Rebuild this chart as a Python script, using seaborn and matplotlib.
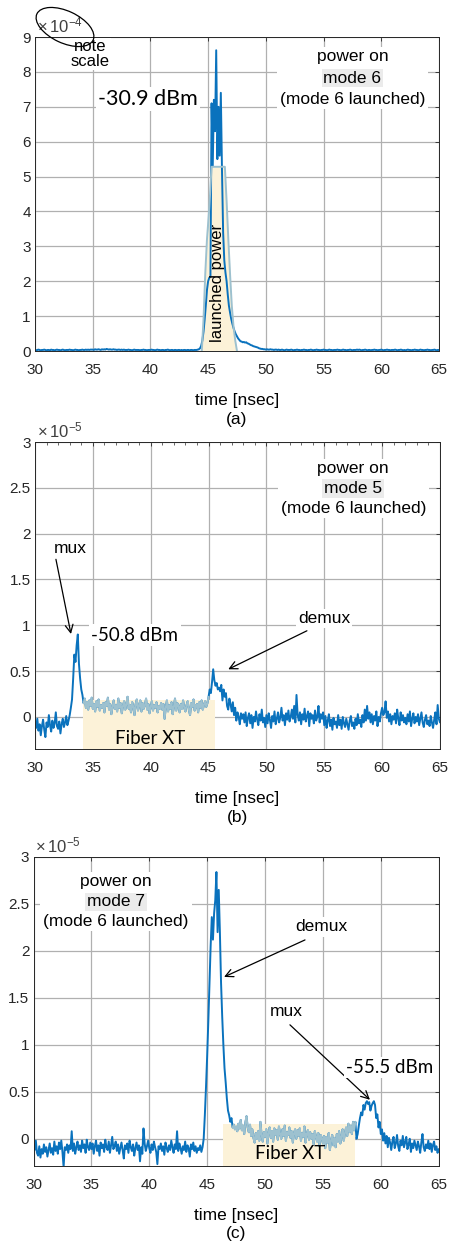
import numpy as np
import pandas as pd
import matplotlib
matplotlib.use("Agg")
import matplotlib.pyplot as plt
from matplotlib.patches import Ellipse, Rectangle
from matplotlib.transforms import Bbox, IdentityTransform
from matplotlib.ticker import MultipleLocator, FuncFormatter
import seaborn as sns

# ---------------------------------------------------------------------------
# scope traces, sampled every 0.1 ns from 30 ns to 65 ns
# ---------------------------------------------------------------------------
t_start, t_step, n_samples = 30.0, 0.1, 351
time_ns = np.round(t_start + t_step * np.arange(n_samples), 1)

# (a) power on mode 6, units of 1e-4
power_mode6 = [
    0.03, 0.02, 0.03, 0.04, 0.03, 0.02, 0.03, 0.03, 0.04, 0.03,   # 30
    0.02, 0.03, 0.03, 0.02, 0.04, 0.03, 0.03, 0.02, 0.03, 0.04,   # 31
    0.03, 0.03, 0.02, 0.03, 0.04, 0.03, 0.02, 0.03, 0.03, 0.03,   # 32
    0.04, 0.03, 0.03, 0.02, 0.03, 0.04, 0.03, 0.03, 0.02, 0.03,   # 33
    0.03, 0.04, 0.03, 0.03, 0.04, 0.03, 0.04, 0.03, 0.04, 0.04,   # 34
    0.04, 0.03, 0.05, 0.04, 0.04, 0.05, 0.04, 0.03, 0.05, 0.04,   # 35
    0.05, 0.04, 0.06, 0.05, 0.04, 0.05, 0.04, 0.04, 0.05, 0.04,   # 36
    0.04, 0.03, 0.04, 0.04, 0.03, 0.04, 0.03, 0.04, 0.03, 0.03,   # 37
    0.03, 0.04, 0.03, 0.03, 0.02, 0.03, 0.04, 0.03, 0.03, 0.03,   # 38
    0.03, 0.02, 0.03, 0.03, 0.04, 0.03, 0.03, 0.02, 0.03, 0.03,   # 39
    0.03, 0.04, 0.03, 0.03, 0.02, 0.03, 0.04, 0.03, 0.03, 0.02,   # 40
    0.03, 0.03, 0.02, 0.03, 0.03, 0.04, 0.03, 0.02, 0.03, 0.03,   # 41
    0.02, 0.03, 0.03, 0.02, 0.03, 0.03, 0.02, 0.03, 0.02, 0.03,   # 42
    0.03, 0.02, 0.03, 0.03, 0.02, 0.03, 0.03, 0.02, 0.03, 0.03,   # 43
    0.03, 0.04, 0.05, 0.08, 0.15, 0.30, 0.55, 0.90, 1.30, 1.75,   # 44
    2.00, 2.10, 2.12, 7.10, 5.30, 7.20, 6.30, 8.62, 5.50, 7.00,   # 45
    5.60, 7.40, 5.20, 3.40, 2.60, 2.25, 2.00, 1.62, 1.30, 1.10,   # 46
    0.92, 0.78, 0.66, 0.56, 0.48, 0.42, 0.36, 0.32, 0.28, 0.27,   # 47
    0.25, 0.26, 0.24, 0.25, 0.22, 0.21, 0.19, 0.17, 0.16, 0.14,   # 48
    0.13, 0.12, 0.11, 0.10, 0.08, 0.07, 0.06, 0.06, 0.05, 0.05,   # 49
    0.04, 0.05, 0.04, 0.04, 0.05, 0.04, 0.04, 0.03, 0.04, 0.04,   # 50
    0.03, 0.04, 0.03, 0.03, 0.04, 0.03, 0.02, 0.03, 0.04, 0.03,   # 51
    0.03, 0.03, 0.04, 0.03, 0.02, 0.03, 0.03, 0.04, 0.03, 0.03,   # 52
    0.02, 0.03, 0.03, 0.04, 0.03, 0.03, 0.02, 0.03, 0.03, 0.04,   # 53
    0.03, 0.02, 0.03, 0.03, 0.04, 0.03, 0.03, 0.02, 0.03, 0.03,   # 54
    0.04, 0.03, 0.03, 0.02, 0.03, 0.04, 0.03, 0.03, 0.02, 0.03,   # 55
    0.03, 0.03, 0.04, 0.03, 0.03, 0.02, 0.03, 0.04, 0.03, 0.03,   # 56
    0.02, 0.03, 0.03, 0.04, 0.03, 0.02, 0.03, 0.03, 0.03, 0.04,   # 57
    0.03, 0.04, 0.03, 0.02, 0.03, 0.03, 0.04, 0.03, 0.02, 0.03,   # 58
    0.03, 0.02, 0.03, 0.03, 0.04, 0.03, 0.03, 0.02, 0.03, 0.03,   # 59
    0.04, 0.03, 0.02, 0.03, 0.03, 0.04, 0.03, 0.03, 0.02, 0.03,   # 60
    0.03, 0.03, 0.04, 0.03, 0.02, 0.03, 0.03, 0.04, 0.03, 0.02,   # 61
    0.03, 0.02, 0.03, 0.04, 0.03, 0.03, 0.02, 0.03, 0.03, 0.04,   # 62
    0.03, 0.03, 0.02, 0.03, 0.04, 0.03, 0.03, 0.02, 0.03, 0.03,   # 63
    0.04, 0.03, 0.03, 0.02, 0.03, 0.03, 0.04, 0.03, 0.02, 0.03,   # 64
    0.03,                                                         # 65
]

# launched pulse shown under trace (a), units of 1e-4
launch_time = [44.45, 44.6, 44.75, 44.9, 45.1, 45.3, 46.45, 46.6, 46.75,
               46.9, 47.05, 47.2, 47.35, 47.5]
launch_power = [0.0, 0.9, 2.2, 3.2, 4.1, 5.28, 5.28, 4.3, 3.2,
                2.2, 1.3, 0.7, 0.3, 0.0]

# (b) power on mode 5, units of 1e-5
power_mode5 = [
    -0.05, -0.12, -0.02, -0.15, -0.08, -0.20, -0.10, -0.03, -0.14, -0.22,   # 30
    -0.06, -0.11, 0.02, -0.09, -0.16, -0.04, -0.12, -0.07, 0.05, -0.10,     # 31
    -0.13, -0.05, -0.18, -0.08, -0.02, -0.11, -0.06, 0.01, -0.09, -0.04,    # 32
    0.02, 0.10, 0.19, 0.42, 0.68, 0.60, 0.78, 0.90, 0.58, 0.42,             # 33
    0.30, 0.24, 0.15, 0.20, 0.10, 0.16, 0.08, 0.18, 0.12, 0.21,             # 34
    0.09, 0.14, 0.06, 0.17, 0.11, 0.19, 0.07, 0.13, 0.10, 0.15,             # 35
    0.05, 0.16, 0.12, 0.21, 0.08, 0.14, 0.03, 0.11, 0.18, 0.09,             # 36
    0.13, 0.06, 0.20, 0.10, 0.15, 0.04, 0.12, 0.17, 0.08, 0.14,             # 37
    0.22, 0.09, 0.13, 0.05, 0.16, 0.11, 0.02, 0.14, 0.19, 0.07,             # 38
    0.12, 0.18, 0.06, 0.15, 0.09, 0.13, 0.20, 0.08, 0.14, 0.04,             # 39
    0.11, 0.17, 0.07, 0.13, 0.10, 0.16, 0.05, 0.12, 0.09, 0.15,             # 40
    0.08, 0.14, -0.02, 0.10, 0.18, 0.06, 0.13, 0.09, 0.16, 0.03,            # 41
    0.11, 0.20, 0.07, 0.15, 0.12, 0.05, 0.14, 0.09, 0.18, 0.10,             # 42
    0.06, 0.13, 0.17, 0.08, 0.02, 0.15, 0.11, 0.19, 0.07, 0.12,             # 43
    0.14, 0.05, 0.16, 0.10, 0.18, 0.08, 0.13, 0.17, 0.11, 0.15,             # 44
    0.22, 0.30, 0.26, 0.38, 0.52, 0.40, 0.34, 0.37, 0.30, 0.32,             # 45
    0.28, 0.35, 0.18, 0.30, 0.22, 0.26, 0.12, 0.08, 0.20, 0.14,             # 46
    0.06, 0.16, 0.02, 0.10, -0.04, 0.05, 0.00, -0.08, 0.04, -0.02,          # 47
    0.03, -0.06, 0.05, -0.10, -0.01, 0.04, -0.07, 0.02, -0.12, 0.00,        # 48
    -0.05, 0.06, -0.03, -0.09, 0.03, -0.04, 0.08, -0.06, -0.01, -0.11,      # 49
    0.02, -0.07, 0.04, -0.03, -0.12, 0.01, -0.05, 0.06, -0.08, -0.02,       # 50
    0.05, -0.06, -0.01, 0.10, -0.04, 0.02, -0.09, 0.04, -0.03, 0.07,        # 51
    -0.05, 0.00, 0.08, -0.02, 0.12, -0.06, 0.24, 0.02, -0.04, 0.05,         # 52
    -0.08, 0.03, -0.03, 0.09, -0.05, 0.01, 0.06, -0.10, 0.04, -0.02,        # 53
    0.02, -0.07, 0.07, -0.04, 0.00, 0.12, -0.06, 0.03, -0.02, 0.05,         # 54
    -0.09, 0.01, -0.12, -0.04, 0.03, -0.10, -0.03, -0.14, -0.01, -0.08,     # 55
    -0.05, -0.12, 0.02, -0.09, -0.03, -0.13, 0.00, -0.07, -0.11, -0.02,     # 56
    -0.08, -0.14, -0.04, 0.01, -0.10, -0.06, -0.13, -0.02, -0.09, 0.03,     # 57
    -0.07, -0.03, -0.11, 0.02, -0.06, 0.08, -0.04, 0.12, -0.02, 0.05,       # 58
    -0.06, 0.03, -0.08, 0.01, -0.04, 0.06, -0.10, 0.00, -0.05, 0.04,        # 59
    0.10, 0.02, 0.05, 0.17, -0.01, 0.06, -0.05, 0.03, -0.08, 0.01,          # 60
    -0.03, 0.04, -0.07, 0.08, -0.02, -0.09, 0.05, -0.04, 0.02, -0.06,       # 61
    -0.01, -0.08, 0.03, -0.05, 0.06, -0.10, -0.02, 0.04, -0.07, 0.00,       # 62
    -0.05, 0.03, -0.09, -0.02, 0.05, -0.06, -0.11, -0.03, 0.02, -0.08,      # 63
    -0.04, -0.10, 0.01, -0.06, -0.12, -0.03, 0.05, -0.08, 0.13, -0.02,      # 64
    -0.06,                                                                  # 65
]

# (c) power on mode 7, units of 1e-5
power_mode7 = [
    -0.05, -0.12, -0.02, -0.15, -0.18, -0.08, -0.20, -0.11, -0.16, -0.06,   # 30
    -0.14, -0.09, -0.19, -0.12, -0.05, -0.15, -0.10, -0.17, -0.03, -0.13,   # 31
    -0.08, -0.16, -0.04, -0.11, -0.02, -0.14, -0.30, -0.09, -0.12, -0.06,   # 32
    -0.15, -0.07, -0.11, 0.08, -0.13, -0.05, -0.16, -0.09, -0.03, -0.12,    # 33
    -0.07, -0.14, -0.02, -0.10, -0.06, -0.15, -0.01, -0.09, -0.12, -0.04,   # 34
    -0.11, -0.05, -0.16, -0.08, -0.02, -0.13, -0.07, -0.18, -0.04, -0.10,   # 35
    -0.06, -0.14, -0.01, -0.09, -0.12, -0.03, -0.15, -0.07, 0.02, -0.11,    # 36
    -0.08, -0.03, -0.13, -0.06, -0.16, -0.10, -0.04, -0.12, -0.21, -0.07,   # 37
    -0.11, -0.05, -0.15, -0.02, -0.09, -0.13, -0.06, -0.18, -0.10, -0.04,   # 38
    -0.12, -0.07, -0.24, -0.09, -0.16, 0.11, -0.05, -0.13, -0.08, -0.02,    # 39
    -0.10, -0.15, -0.06, -0.12, -0.03, -0.09, -0.14, -0.27, -0.08, -0.11,   # 40
    -0.05, -0.13, -0.08, -0.17, -0.04, -0.10, -0.14, -0.07, -0.12, -0.02,   # 41
    -0.09, -0.15, -0.06, -0.11, 0.08, -0.13, -0.05, -0.10, -0.16, -0.08,    # 42
    -0.12, -0.03, -0.14, -0.07, -0.10, -0.19, -0.06, -0.11, -0.04, -0.13,   # 43
    -0.08, -0.15, -0.10, -0.12, -0.07, -0.14, -0.09, 0.00, 0.25, 0.55,      # 44
    0.88, 1.25, 1.66, 2.05, 2.36, 2.12, 2.40, 2.54, 2.84, 2.20,             # 45
    2.65, 2.20, 1.66, 1.30, 1.00, 0.75, 0.60, 0.43, 0.30, 0.25,             # 46
    0.18, 0.22, 0.12, 0.15, 0.10, 0.13, 0.08, 0.16, 0.11, 0.20,             # 47
    0.09, 0.14, 0.05, 0.17, 0.24, 0.12, 0.07, 0.15, 0.03, 0.10,             # 48
    0.01, -0.04, 0.06, 0.00, 0.08, -0.02, 0.18, 0.04, -0.03, 0.07,          # 49
    0.02, 0.10, -0.05, 0.06, 0.12, 0.01, 0.08, -0.03, 0.11, 0.04,           # 50
    0.09, -0.01, 0.13, 0.05, 0.00, 0.10, 0.03, 0.14, -0.02, 0.07,           # 51
    0.04, 0.12, 0.01, 0.08, -0.04, 0.06, 0.10, 0.00, 0.09, 0.03,            # 52
    0.11, -0.02, 0.06, 0.02, 0.13, -0.04, 0.05, 0.09, -0.01, 0.07,          # 53
    0.00, 0.05, -0.06, 0.08, 0.02, -0.03, 0.06, -0.08, 0.04, 0.01,          # 54
    -0.05, 0.03, -0.10, 0.02, -0.04, 0.06, -0.12, -0.02, 0.04, -0.07,       # 55
    0.01, -0.09, 0.05, -0.03, 0.08, -0.05, 0.02, 0.10, -0.02, 0.06,         # 56
    0.12, 0.03, 0.16, 0.07, 0.14, 0.05, 0.18, 0.09, 0.18, 0.00,             # 57
    0.05, 0.14, 0.22, 0.28, 0.25, 0.36, 0.31, 0.38, 0.40, 0.37,             # 58
    0.39, 0.30, 0.35, 0.38, 0.40, 0.36, 0.22, 0.26, 0.12, 0.18,             # 59
    0.05, 0.10, -0.02, 0.06, -0.05, 0.03, -0.09, 0.01, -0.04, -0.12,        # 60
    -0.03, 0.02, -0.10, -0.05, 0.04, -0.08, -0.13, -0.02, -0.07, 0.03,      # 61
    -0.09, -0.04, 0.02, -0.11, -0.06, 0.00, -0.14, -0.05, -0.10, -0.02,     # 62
    -0.07, -0.12, -0.03, -0.08, -0.15, -0.04, 0.05, -0.09, -0.13, -0.06,    # 63
    -0.10, -0.02, -0.11, -0.05, -0.14, -0.07, -0.03, -0.12, -0.08, -0.15,   # 64
    -0.11,                                                                  # 65
]

# fiber crosstalk windows: shaded span [start, stop, top] and highlighted trace span
xt_shade_b = [34.15, 45.6, 0.19]
xt_trace_b = [34.2, 45.0]
xt_shade_c = [46.4, 57.8, 0.16]
xt_trace_c = [47.2, 57.8]

x_ticks = [30, 35, 40, 45, 50, 55, 60, 65]

# ---------------------------------------------------------------------------
sns.set_theme(style="white")
plt.rcParams["font.family"] = ["Liberation Sans", "DejaVu Sans"]
plt.rcParams["mathtext.default"] = "regular"

BLUE = "#0a72bd"
LIGHT = "#9dc1cf"
SHADE = "#fcf2d8"
INK = "#262626"
GRID = "#b0b0b0"
CALLOUT = ["Lato", "DejaVu Sans"]

fig = plt.figure(figsize=(4.52, 12.41), dpi=100)
ax_a = fig.add_axes([0.0774, 0.71716, 0.8938, 0.25302])
ax_b = fig.add_axes([0.0774, 0.39645, 0.89602, 0.24738])
ax_c = fig.add_axes([0.07412, 0.06044, 0.89646, 0.24899])

df = pd.DataFrame({"t": time_ns, "a": power_mode6, "b": power_mode5, "c": power_mode7})
launch = pd.DataFrame({"t": launch_time, "p": launch_power})

blocks = []   # (axes, [text artists]) that get a shared white backing


def style_axes(ax, ylim, yticks, letter, minor=False):
    ax.set_xlim(30, 65)
    ax.set_ylim(*ylim)
    ax.set_xticks(x_ticks)
    ax.set_yticks(yticks)
    ax.yaxis.set_major_formatter(FuncFormatter(lambda v, p: f"{v:g}"))
    ax.grid(True, color=GRID, lw=0.9)
    ax.set_axisbelow(True)
    for s in ax.spines.values():
        s.set_color(INK)
        s.set_linewidth(0.7)
    ax.tick_params(axis="both", direction="in", top=True, right=True,
                   length=3, width=0.6, colors=INK, labelsize=11)
    ax.tick_params(axis="x", pad=8.5)
    ax.tick_params(axis="y", pad=3)
    if minor:
        ax.xaxis.set_minor_locator(MultipleLocator(1))
        ax.tick_params(axis="x", which="minor", direction="in", top=True,
                       length=2.2, width=0.5, colors=INK)
    ax.set_xlabel("time [nsec]", fontsize=12.5, color="black", labelpad=12)
    ax.set_ylabel("")
    ax.annotate(letter, xy=(0.5, 0), xycoords="axes fraction", xytext=(0, -68),
                textcoords="offset pixels", ha="center", va="center",
                fontsize=12.5, color="black")


def mode_block(ax, x, ys, mode):
    kw = dict(ha="center", va="center", fontsize=12.5, color="black", zorder=7)
    t1 = ax.text(x, ys[0], "power on", **kw)
    t2 = ax.text(x, ys[1], mode, bbox=dict(facecolor="#ebebeb", edgecolor="none",
                                           pad=1.2), **kw)
    t3 = ax.text(x, ys[2], "(mode 6 launched)", **kw)
    blocks.append((ax, [t1, t2, t3]))


def label(ax, x, y, s, size=12.5, family=None, box=True):
    kw = dict(ha="center", va="center", fontsize=size, color="black", zorder=6)
    if family:
        kw["family"] = family
    if box:
        kw["bbox"] = dict(facecolor="white", edgecolor="none", pad=1.5)
    ax.text(x, y, s, **kw)


def arrow(ax, start, tip):
    ax.annotate("", xy=tip, xytext=start, zorder=6,
                arrowprops=dict(arrowstyle="->", color="black", lw=0.9,
                                mutation_scale=14, shrinkA=0, shrinkB=0))


def exponent(ax, power):
    ax.text(0.004, 1.004, r"$\times\,10^{" + str(power) + "}$", transform=ax.transAxes,
            ha="left", va="bottom", fontsize=12, color="#404040")


# ---- (a) ----
ax = ax_a
ax.fill_between(launch["t"], 0, launch["p"], color=SHADE, lw=0, zorder=1)
sns.lineplot(data=df, x="t", y="a", ax=ax, color=BLUE, lw=1.4, zorder=2)
sns.lineplot(data=launch, x="t", y="p", ax=ax, color=LIGHT, lw=1.4, zorder=3)
style_axes(ax, (0, 9), list(range(10)), "(a)")
exponent(ax, -4)
label(ax, 39.8, 7.22, "-30.9 dBm", size=15.5, family=CALLOUT)
mode_block(ax, 57.5, (8.427, 7.825, 7.22), "mode 6")
ax.text(45.85, 1.95, "launched power", rotation=90, ha="center", va="center",
        fontsize=12, color="black", zorder=6)
ax.text(34.8, 8.51, "note\nscale", ha="center", va="center", fontsize=12,
        linespacing=0.95, color="black", zorder=6,
        bbox=dict(facecolor="white", edgecolor="none", pad=1))
fig.add_artist(Ellipse((0.65, 12.41 - 0.27), 0.62, 0.32, angle=-25,
                       transform=fig.dpi_scale_trans, fill=False,
                       edgecolor="black", lw=0.9))

# ---- (b) ----
ax = ax_b
ax.add_patch(Rectangle((xt_shade_b[0], -0.35), xt_shade_b[1] - xt_shade_b[0],
                       xt_shade_b[2] + 0.35, facecolor=SHADE, edgecolor="none", zorder=1))
sns.lineplot(data=df, x="t", y="b", ax=ax, color=BLUE, lw=1.4, zorder=2)
seg = df[(df["t"] >= xt_trace_b[0]) & (df["t"] <= xt_trace_b[1])]
sns.lineplot(data=seg, x="t", y="b", ax=ax, color=LIGHT, lw=1.4, zorder=3)
style_axes(ax, (-0.35, 3), [0, 0.5, 1, 1.5, 2, 2.5, 3], "(b)", minor=True)
exponent(ax, -5)
mode_block(ax, 57.5, (2.713, 2.495, 2.277), "mode 5")
label(ax, 33.02, 1.833, "mux")
arrow(ax, (31.81, 1.72), (33.11, 0.905))
label(ax, 38.64, 0.894, "-50.8 dBm", size=13.5, family=CALLOUT)
label(ax, 54.98, 1.07, "demux")
arrow(ax, (53.5, 0.94), (46.7, 0.52))
label(ax, 39.94, -0.23, "Fiber XT", size=13.5, family=CALLOUT, box=False)

# ---- (c) ----
ax = ax_c
ax.add_patch(Rectangle((xt_shade_c[0], -0.3), xt_shade_c[1] - xt_shade_c[0],
                       xt_shade_c[2] + 0.3, facecolor=SHADE, edgecolor="none", zorder=1))
sns.lineplot(data=df, x="t", y="c", ax=ax, color=BLUE, lw=1.4, zorder=2)
seg = df[(df["t"] >= xt_trace_c[0]) & (df["t"] <= xt_trace_c[1])]
sns.lineplot(data=seg, x="t", y="c", ax=ax, color=LIGHT, lw=1.4, zorder=3)
style_axes(ax, (-0.29, 3), [0, 0.5, 1, 1.5, 2, 2.5, 3], "(c)")
exponent(ax, -5)
mode_block(ax, 37.13, (2.734, 2.521, 2.309), "mode 7")
label(ax, 54.83, 2.255, "demux")
arrow(ax, (53.45, 2.117), (46.46, 1.723))
label(ax, 51.81, 1.351, "mux")
arrow(ax, (52.15, 1.213), (59.06, 0.415))
label(ax, 60.79, 0.755, "-55.5 dBm", size=13.5, family=CALLOUT)
label(ax, 52.16, -0.16, "Fiber XT", size=13.5, family=CALLOUT, box=False)

# white backing behind each three-line mode caption
fig.canvas.draw()
renderer = fig.canvas.get_renderer()
for ax, texts in blocks:
    bb = Bbox.union([t.get_window_extent(renderer) for t in texts]).expanded(1.0, 1.0)
    ax.add_patch(Rectangle((bb.x0 - 3, bb.y0 - 2), bb.width + 6, bb.height + 4,
                           transform=IdentityTransform(), facecolor="white",
                           edgecolor="none", zorder=5, clip_on=False))

fig.savefig("out.png", dpi=100)
